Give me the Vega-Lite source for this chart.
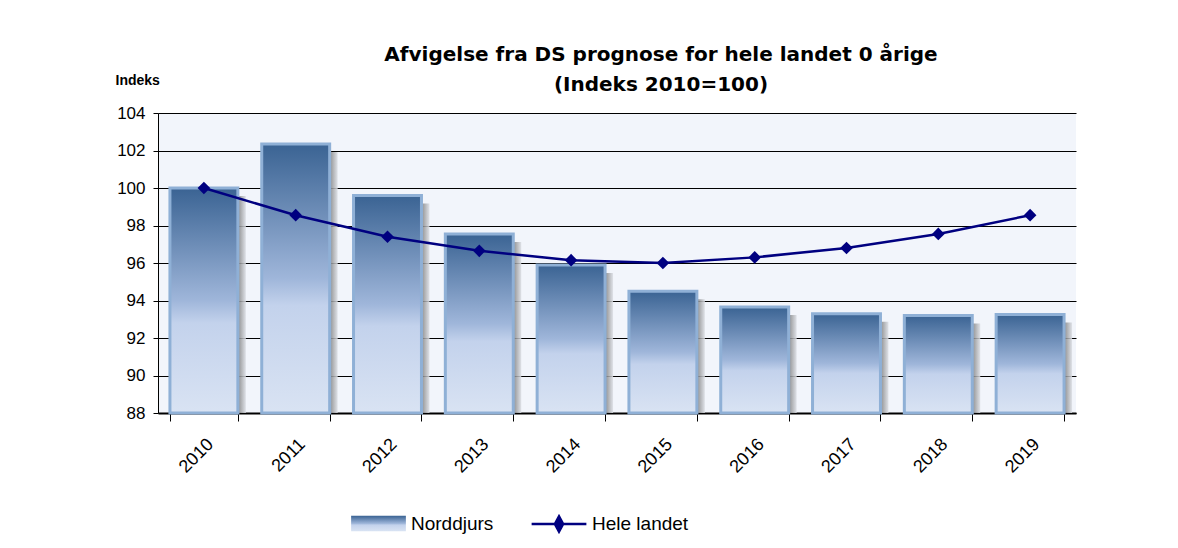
{
  "$schema": "https://vega.github.io/schema/vega-lite/v6.json",
  "width": 918,
  "height": 300,
  "autosize": {"type": "none"},
  "padding": {"left": 158, "top": 113, "right": 102, "bottom": 135},
  "background": "white",
  "config": {
    "view": {"fill": "#f2f5fb", "stroke": null},
    "font": "Liberation Sans",
    "axisY": {"tickCount": 8}
  },
  "title": {
    "text": ["Afvigelse fra DS prognose for hele landet 0 årige", "(Indeks 2010=100)"],
    "font": "DejaVu Sans",
    "fontSize": 20,
    "fontWeight": "bold",
    "lineHeight": 30,
    "anchor": "middle",
    "dx": 44,
    "offset": -22,
    "color": "black"
  },
  "data": {
    "values": [
      {"year": "2010", "norddjurs": 100.0, "hele": 100.0},
      {"year": "2011", "norddjurs": 102.35, "hele": 98.55},
      {"year": "2012", "norddjurs": 99.6, "hele": 97.4},
      {"year": "2013", "norddjurs": 97.55, "hele": 96.65},
      {"year": "2014", "norddjurs": 95.9, "hele": 96.15},
      {"year": "2015", "norddjurs": 94.5, "hele": 96.0},
      {"year": "2016", "norddjurs": 93.65, "hele": 96.3},
      {"year": "2017", "norddjurs": 93.3, "hele": 96.8},
      {"year": "2018", "norddjurs": 93.2, "hele": 97.55},
      {"year": "2019", "norddjurs": 93.25, "hele": 98.55}
    ]
  },
  "encoding": {
    "x": {
      "field": "year", "type": "ordinal",
      "scale": {"paddingInner": 0.26, "paddingOuter": 0.13},
      "axis": {
        "title": null, "labelAngle": -45, "labelFontSize": 18, "labelColor": "black",
        "domainColor": "black", "domainWidth": 2, "tickColor": "black", "tickBand": "extent",
        "tickSize": 8, "labelPadding": 14, "grid": false
      }
    }
  },
  "layer": [
    {
      "mark": {"type": "bar", "clip": true, "xOffset": 8, "yOffset": 8, "color": {"gradient": "linear", "x1": 0, "y1": 0, "x2": 1, "y2": 0, "stops": [{"offset": 0, "color": "#707070"}, {"offset": 0.88, "color": "#7a7a7a"}, {"offset": 1, "color": "#dcdfe5"}]}, "opacity": 0.85},
      "encoding": {
        "y": {
          "field": "norddjurs", "type": "quantitative",
          "scale": {"domain": [88, 104], "zero": false, "nice": false},
          "axis": {
            "title": "Indeks", "titleAngle": 0, "titleAlign": "left", "titleX": -43, "titleY": -33,
            "titleBaseline": "middle", "titleFontSize": 14, "titleFontWeight": "bold", "titleColor": "black",
            "tickCount": 8, "labelOverlap": false,
            "labelFontSize": 17, "labelColor": "black", "labelPadding": 8,
            "gridColor": "black", "gridOpacity": 1, "gridWidth": 1,
            "domainColor": "black", "tickColor": "black", "tickSize": 5
          }
        },
        "y2": {"datum": 88}
      }
    },
    {
      "mark": {"type": "bar", "stroke": "#8fb0d6", "strokeWidth": 3, "color": {"gradient": "linear", "x1": 0, "y1": 0, "x2": 0, "y2": 1, "stops": [{"offset": 0, "color": "#3a6393"}, {"offset": 0.5, "color": "#9fb6da"}, {"offset": 0.6, "color": "#c3d2ec"}, {"offset": 1, "color": "#d9e3f3"}]}},
      "encoding": {
        "y": {"field": "norddjurs", "type": "quantitative"},
        "y2": {"datum": 88},
        "opacity": {
          "datum": "Norddjurs",
          "scale": {"domain": ["Norddjurs"], "range": [1]},
          "legend": {
            "title": null, "orient": "none", "legendX": 192, "legendY": 382, "direction": "horizontal",
            "labelFontSize": 19, "labelColor": "black",
            "symbolType": "M-1,-0.28H1V0.28H-1Z", "symbolSize": 3000, "symbolFillColor": "#b3c6e6", "symbolStrokeColor": "#8fb0d6", "symbolStrokeWidth": 2, "symbolOpacity": 1
          }
        }
      }
    },
    {
      "mark": {"type": "line", "strokeWidth": 2.5},
      "encoding": {
        "y": {"field": "hele", "type": "quantitative"},
        "stroke": {
          "datum": "Hele landet",
          "scale": {"domain": ["Hele landet"], "range": ["#000080"]},
          "legend": {
            "title": null, "orient": "none", "legendX": 372, "legendY": 382, "direction": "horizontal",
            "labelFontSize": 19, "labelColor": "black",
            "symbolType": "M-1,0H-0.15M0.15,0H1M0,-0.28L0.15,0L0,0.28L-0.15,0Z", "symbolSize": 3000,
            "symbolFillColor": "#000080", "symbolStrokeWidth": 2.5
          }
        }
      }
    },
    {
      "mark": {"type": "point", "shape": "diamond", "filled": true, "size": 160, "color": "#000080", "opacity": 1},
      "encoding": {
        "y": {"field": "hele", "type": "quantitative"}
      }
    }
  ],
  "resolve": {"legend": {"opacity": "independent", "stroke": "independent"}}
}
